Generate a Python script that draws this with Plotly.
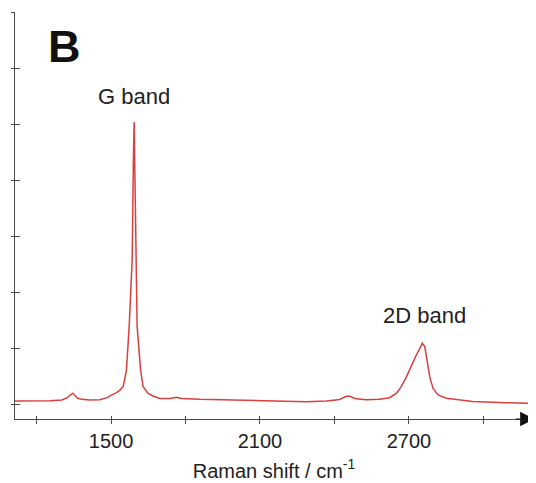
import plotly.graph_objects as go

# Raman spectrum (Raman shift in cm^-1, intensity in tick units)
shift = [1113, 1173, 1254, 1302, 1322, 1334, 1346, 1356, 1366, 1382, 1415, 1455, 1471,
         1487, 1499, 1519, 1535, 1549, 1562, 1573, 1585, 1587, 1590, 1593, 1595, 1598,
         1600, 1605, 1619, 1629, 1648, 1668, 1697, 1737, 1763, 1785, 1858, 2019, 2152,
         2288, 2369, 2421, 2445, 2461, 2482, 2510, 2526, 2582, 2622, 2650, 2670, 2690,
         2710, 2727, 2741, 2754, 2764, 2773, 2784, 2797, 2817, 2851, 2905, 2957, 3093, 3207]
intensity = [0.07, 0.07, 0.077, 0.09, 0.125, 0.17, 0.21, 0.16, 0.12, 0.10, 0.09, 0.095, 0.12,
             0.135, 0.17, 0.21, 0.26, 0.33, 0.62, 1.40, 2.58, 3.65, 4.37, 5.04, 4.55, 3.65,
             2.58, 1.40, 0.62, 0.33, 0.21, 0.16, 0.115, 0.115, 0.137, 0.115, 0.10, 0.083, 0.062,
             0.059, 0.071, 0.098, 0.15, 0.16, 0.115, 0.098, 0.093, 0.10, 0.13, 0.21, 0.33, 0.50,
             0.71, 0.86, 0.98, 1.10, 1.04, 0.80, 0.50, 0.30, 0.18, 0.12, 0.09, 0.06, 0.04, 0.03]

x_ticks = [1200, 1500, 1800, 2100, 2400, 2700, 3000]
x_labels = ["", "1500", "", "2100", "", "2700", ""]
y_ticks = [0, 1, 2, 3, 4, 5, 6, 7]

band_labels = ["G band", "2D band"]
band_windows = [(1500, 1700), (2600, 2900)]
band_label_shift = [(0, 11), (2, 13)]

x_range = [1113, 3200]
y_range = [-0.25, 7.0]

axis_color = "#4a4a4a"
line_color = "#d8403e"
text_color = "#222222"
font_family = "Liberation Sans, Arial, sans-serif"

fig = go.Figure()
fig.add_trace(go.Scatter(x=shift, y=intensity, mode="lines",
                         line=dict(color=line_color, width=1.5), hoverinfo="skip"))
# invisible twin trace so that the inside-tick axes are drawn
fig.add_trace(go.Scatter(x=shift, y=intensity, mode="lines", xaxis="x2", yaxis="y2",
                         line=dict(color="rgba(0,0,0,0)", width=0), hoverinfo="skip",
                         showlegend=False))

common_x = dict(range=x_range, tickmode="array", tickvals=x_ticks, showgrid=False,
                zeroline=False, tickcolor=axis_color, tickwidth=1.2, automargin=False)
common_y = dict(range=y_range, tickmode="array", tickvals=y_ticks, showgrid=False,
                zeroline=False, tickcolor=axis_color, tickwidth=1.2, showticklabels=False,
                automargin=False)

# the page body adds an 8 px offset, so the figure is 8 px smaller and margins shifted
fig.update_layout(
    width=528, height=475,
    margin=dict(l=7, r=3, t=4, b=64, autoexpand=False),
    paper_bgcolor="white", plot_bgcolor="white",
    showlegend=False,
    font=dict(family=font_family, color=text_color),
    xaxis=dict(**common_x, ticktext=x_labels, ticks="outside", ticklen=4,
               showline=True, linecolor=axis_color, linewidth=1.3,
               tickfont=dict(size=20, color=text_color),
               title=dict(text="Raman shift / cm<sup>-1</sup>",
                          font=dict(size=20, color=text_color), standoff=12)),
    yaxis=dict(**common_y, ticks="outside", ticklen=3,
               showline=True, linecolor=axis_color, linewidth=1.3),
    xaxis2=dict(**common_x, overlaying="x", matches="x", ticks="inside", ticklen=3,
                showticklabels=False, showline=False, side="bottom", anchor="y2"),
    yaxis2=dict(**common_y, overlaying="y", matches="y", ticks="inside", ticklen=5,
                showline=False, side="left", anchor="x2"),
)

# band labels placed above each band maximum
for label, (lo, hi), (dx, dy) in zip(band_labels, band_windows, band_label_shift):
    pts = [(xv, yv) for xv, yv in zip(shift, intensity) if lo <= xv <= hi]
    px, py = max(pts, key=lambda p: p[1])
    fig.add_annotation(x=px, y=py, xref="x", yref="y", text=label, showarrow=False,
                       yanchor="bottom", yshift=dy, xshift=dx,
                       font=dict(size=22, color=text_color))

# panel letter
fig.add_annotation(x=0.096, y=0.916, xref="paper", yref="paper", text="<b>B</b>",
                   showarrow=False, xanchor="center", yanchor="middle",
                   font=dict(size=45, color="#111111", family="Liberation Sans, Arial"))

# arrow head at the end of the x axis
fig.add_annotation(x=1.003, y=0, xref="paper", yref="paper", ax=-22, ay=0,
                   axref="pixel", ayref="pixel", text=" ", showarrow=True,
                   arrowhead=2, arrowsize=2.4, arrowwidth=1.2, arrowcolor="#111111",
                   standoff=0)

fig.write_html("out.html")
